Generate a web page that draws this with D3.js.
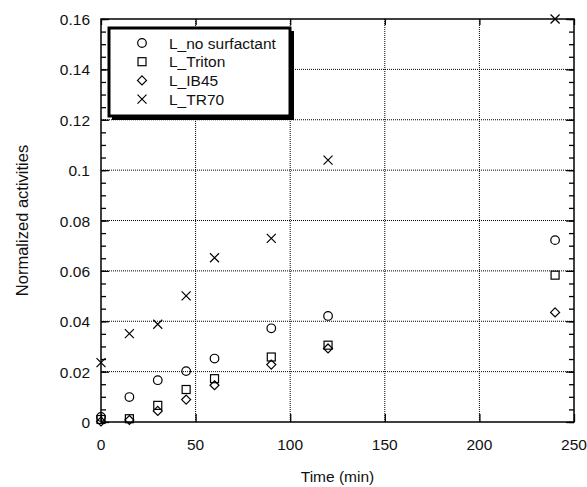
<!DOCTYPE html>
<html>
<head>
<meta charset="utf-8">
<script src="https://cdn.jsdelivr.net/npm/d3@7"></script>
<style>
  body { margin: 0; background: #fff; }
  text { font-family: "Liberation Sans", Arial, sans-serif; }
</style>
</head>
<body>
<div id="chart"></div>
<script>
// time points (min)
var times = [0, 15, 30, 45, 60, 90, 120, 240];
// series values
var noSurfactant = [0.002, 0.0099, 0.0166, 0.0202, 0.0252, 0.0372, 0.0421, 0.0722];
var triton       = [0.001, 0.0013, 0.0066, 0.0129, 0.0172, 0.0258, 0.0305, 0.0583];
var ib45         = [0.0002, 0.0008, 0.0044, 0.0089, 0.0146, 0.0228, 0.0292, 0.0435];
var tr70         = [0.0236, 0.0351, 0.0388, 0.0501, 0.0652, 0.0729, 0.104, 0.16];
var seriesNames  = ["L_no surfactant", "L_Triton", "L_IB45", "L_TR70"];
var xTicks = [0, 50, 100, 150, 200, 250];
var yTicks = [0, 0.02, 0.04, 0.06, 0.08, 0.1, 0.12, 0.14, 0.16];

var W = 587, H = 487;
var margin = {top: 19, right: 13, bottom: 65, left: 101};
var width = W - margin.left - margin.right,
    height = H - margin.top - margin.bottom;

var svg = d3.select("#chart").append("svg")
    .attr("width", W).attr("height", H);
var g = svg.append("g")
    .attr("transform", "translate(" + margin.left + "," + margin.top + ")");

var x = d3.scaleLinear().domain([0, 250]).range([0, width]);
var y = d3.scaleLinear().domain([0, 0.16]).range([height, 0]);

// dotted grid
g.append("g").selectAll("line").data(xTicks.slice(1, -1)).enter().append("line")
    .attr("x1", d => x(d)).attr("x2", d => x(d))
    .attr("y1", 0).attr("y2", height)
    .attr("stroke", "#000").attr("stroke-dasharray", "1,1");
g.append("g").selectAll("line").data(yTicks.slice(1, -1)).enter().append("line")
    .attr("y1", d => y(d)).attr("y2", d => y(d))
    .attr("x1", 0).attr("x2", width)
    .attr("stroke", "#000").attr("stroke-dasharray", "1,1");

// axes: inward ticks on all four sides
var yMinor = d3.range(0, 0.1601, 0.005);
function ticksOn(axisGen, ticks, size) {
    return axisGen.tickValues(ticks).tickSizeInner(size).tickSizeOuter(0).tickFormat("");
}
g.append("g").call(ticksOn(d3.axisRight(y), yMinor, 5));
g.append("g").call(ticksOn(d3.axisRight(y), yTicks, 8));
g.append("g").attr("transform", "translate(" + width + ",0)").call(ticksOn(d3.axisLeft(y), yMinor, 5));
g.append("g").attr("transform", "translate(" + width + ",0)").call(ticksOn(d3.axisLeft(y), yTicks, 8));
g.append("g").attr("transform", "translate(0," + height + ")").call(ticksOn(d3.axisTop(x), xTicks, 8));
g.append("g").call(ticksOn(d3.axisBottom(x), xTicks, 6));
g.selectAll(".domain").remove();
g.selectAll(".tick line").attr("stroke", "#000").attr("stroke-width", 1.3);

// frame
g.append("rect").attr("width", width).attr("height", height)
    .attr("fill", "none").attr("stroke", "#000").attr("stroke-width", 1.5);

// tick labels
g.selectAll(".xlab").data(xTicks).enter().append("text")
    .attr("x", d => x(d)).attr("y", height + 28)
    .attr("text-anchor", "middle").attr("font-size", 15.5).attr("fill", "#111")
    .text(d => d);
g.selectAll(".ylab").data(yTicks).enter().append("text")
    .attr("x", -11).attr("y", d => y(d) + 6)
    .attr("text-anchor", "end").attr("font-size", 15.5).attr("fill", "#111")
    .text(d => d === 0 ? "0" : d3.format("")(+d.toFixed(2)));

// axis titles
svg.append("text").attr("x", margin.left + width / 2).attr("y", 482)
    .attr("text-anchor", "middle").attr("font-size", 15.5).attr("fill", "#111")
    .text("Time (min)");
svg.append("text").attr("transform", "translate(28," + (margin.top + height / 2) + ") rotate(-90)")
    .attr("text-anchor", "middle").attr("font-size", 16.5).attr("fill", "#111")
    .text("Normalized activities");

// marker shapes
var shapes = [
    function(sel) { sel.append("circle").attr("r", 4.3); },
    function(sel) { sel.append("rect").attr("x", -4).attr("y", -4).attr("width", 8).attr("height", 8); },
    function(sel) { sel.append("path").attr("d", "M0,-4.5L4.5,0L0,4.5L-4.5,0Z"); },
    function(sel) { sel.append("path").attr("d", "M-4.5,-4.5L4.5,4.5M-4.5,4.5L4.5,-4.5"); }
];
var allSeries = [noSurfactant, triton, ib45, tr70];

allSeries.forEach(function(vals, si) {
    var pts = g.append("g").selectAll("g").data(vals).enter().append("g")
        .attr("transform", (d, i) => "translate(" + x(times[i]) + "," + y(d) + ")")
        .attr("fill", "none").attr("stroke", "#000").attr("stroke-width", 1.2);
    shapes[si](pts);
});

// legend with drop shadow
var lg = svg.append("g").attr("transform", "translate(109,28)");
lg.append("rect").attr("x", 3).attr("y", 3).attr("width", 182).attr("height", 89).attr("fill", "#000");
lg.append("rect").attr("x", 0).attr("y", 0).attr("width", 181).attr("height", 88)
    .attr("fill", "#fff").attr("stroke", "#000").attr("stroke-width", 3);
seriesNames.forEach(function(name, i) {
    var ry = 15 + i * 18.7;
    var m = lg.append("g").attr("transform", "translate(33," + ry + ")")
        .attr("fill", "none").attr("stroke", "#000").attr("stroke-width", 1.2);
    shapes[i](m);
    lg.append("text").attr("x", 60).attr("y", ry + 5.5)
        .attr("font-size", 15.5).attr("fill", "#111").text(name);
});
</script>
</body>
</html>
